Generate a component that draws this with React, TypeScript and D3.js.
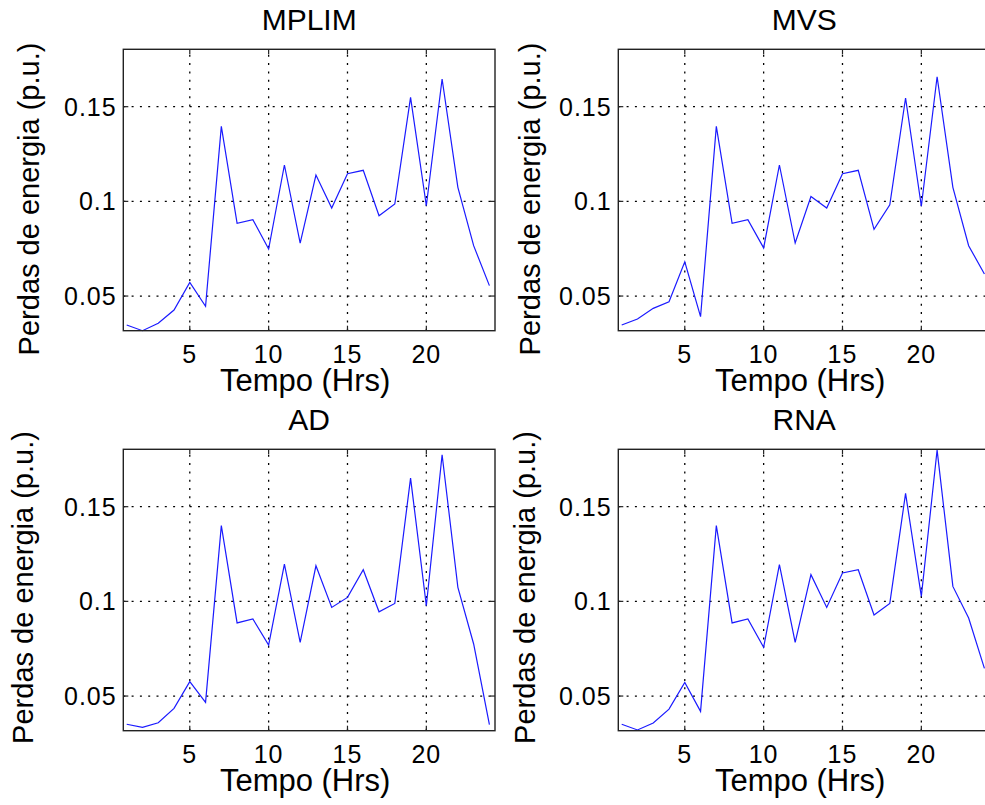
import React from "react";
import * as d3 from "d3";

const hours = [1, 2, 3, 4, 5, 6, 7, 8, 9, 10, 11, 12, 13, 14, 15, 16, 17, 18, 19, 20, 21, 22, 23, 24];
const mplim = [0.0347, 0.0317, 0.0356, 0.0426, 0.0572, 0.0446, 0.1396, 0.0884, 0.0903, 0.0748, 0.1192, 0.078, 0.1139, 0.0965, 0.1146, 0.1164, 0.0924, 0.0986, 0.1549, 0.0977, 0.1646, 0.1074, 0.0766, 0.0555];
const mvs = [0.0347, 0.0379, 0.0435, 0.047, 0.0681, 0.0391, 0.1396, 0.0884, 0.0903, 0.0754, 0.1192, 0.078, 0.1026, 0.0965, 0.1146, 0.1164, 0.0852, 0.0982, 0.1546, 0.0974, 0.1658, 0.1074, 0.0766, 0.0616];
const ad = [0.0351, 0.0335, 0.0359, 0.0435, 0.0576, 0.0467, 0.14, 0.0886, 0.0907, 0.0769, 0.1197, 0.0784, 0.1188, 0.0968, 0.1021, 0.1167, 0.0945, 0.0989, 0.1651, 0.0977, 0.1774, 0.1074, 0.0775, 0.0349];
const rna = [0.0351, 0.0321, 0.0358, 0.0431, 0.0572, 0.0419, 0.14, 0.0886, 0.0907, 0.0757, 0.1194, 0.0784, 0.1141, 0.0968, 0.115, 0.1167, 0.0928, 0.0989, 0.157, 0.1026, 0.1799, 0.1079, 0.0912, 0.0646];
const titles = ["MPLIM", "MVS", "AD", "RNA"];
const xTicks = [5, 10, 15, 20];
const yTicks = [0.05, 0.1, 0.15];
const yTickLabels = ["0.05", "0.1", "0.15"];
const xLabel = "Tempo (Hrs)";
const yLabel = "Perdas de energia (p.u.)";

const FONT = "'Liberation Sans', Arial, Helvetica, sans-serif";

type PanelProps = {
  left: number;
  top: number;
  values: number[];
  title: string;
  yLabelX: number;
  yLabelY: number;
};

const W = 371.7;
const H = 281.4;

function Panel({ left, top, values, title, yLabelX, yLabelY }: PanelProps) {
  const x = d3.scaleLinear().domain([0.784, 24.354]).range([left, left + W]);
  const y = d3.scaleLinear().domain([0.0317, 0.1803]).range([top + H, top]);
  const line = d3
    .line<number>()
    .x((_, i) => x(hours[i]))
    .y((d) => y(d));
  const bottom = top + H;
  const right = left + W;
  const tickLen = 5;
  const cx = left + W / 2;
  return (
    <g>
      {/* grid */}
      {xTicks.map((t) => (
        <line
          key={"gx" + t}
          x1={x(t)}
          x2={x(t)}
          y1={bottom}
          y2={top}
          stroke="#000"
          strokeWidth={1.3}
          strokeDasharray="2,6.3"
        />
      ))}
      {yTicks.map((t) => (
        <line
          key={"gy" + t}
          x1={left}
          x2={right}
          y1={y(t)}
          y2={y(t)}
          stroke="#000"
          strokeWidth={1.3}
          strokeDasharray="2,6.3"
        />
      ))}
      {/* ticks */}
      {xTicks.map((t) => (
        <g key={"tx" + t}>
          <line x1={x(t)} x2={x(t)} y1={bottom} y2={bottom - tickLen} stroke="#222" strokeWidth={1.2} />
          <line x1={x(t)} x2={x(t)} y1={top} y2={top + tickLen} stroke="#222" strokeWidth={1.2} />
        </g>
      ))}
      {yTicks.map((t) => (
        <g key={"ty" + t}>
          <line x1={left} x2={left + tickLen} y1={y(t)} y2={y(t)} stroke="#222" strokeWidth={1.2} />
          <line x1={right} x2={right - tickLen} y1={y(t)} y2={y(t)} stroke="#222" strokeWidth={1.2} />
        </g>
      ))}
      {/* data */}
      <path d={line(values) || ""} fill="none" stroke="#1a1aff" strokeWidth={1.2} />
      {/* box */}
      <rect x={left} y={top} width={W} height={H} fill="none" stroke="#222" strokeWidth={1.4} />
      {/* tick labels */}
      {xTicks.map((t) => (
        <text
          key={"lx" + t}
          x={x(t)}
          y={bottom + 32}
          textAnchor="middle"
          fontSize={25}
          letterSpacing={1}
          fontFamily={FONT}
          fill="#000"
        >
          {t}
        </text>
      ))}
      {yTicks.map((t, i) => (
        <text
          key={"ly" + t}
          x={left - 6.6}
          y={y(t)}
          dy="0.36em"
          textAnchor="end"
          fontSize={25}
          letterSpacing={1}
          fontFamily={FONT}
          fill="#000"
        >
          {yTickLabels[i]}
        </text>
      ))}
      {/* title */}
      <text x={cx} y={top - 19.3} textAnchor="middle" fontSize={30} fontFamily={FONT} fill="#000">
        {title}
      </text>
      {/* x label */}
      <text x={cx - 4} y={bottom + 60.5} textAnchor="middle" fontSize={31} fontFamily={FONT} fill="#000">
        {xLabel}
      </text>
      {/* y label */}
      <text
        transform={`translate(${yLabelX},${yLabelY}) rotate(-90)`}
        textAnchor="middle"
        fontSize={29}
        fontFamily={FONT}
        fill="#000"
      >
        {yLabel}
      </text>
    </g>
  );
}

const series = [mplim, mvs, ad, rna];
const panelLefts = [123.3, 618.3, 123.3, 618.3];
const panelTops = [49.3, 49.3, 449.3, 449.3];
const yLabelXs = [39.3, 540, 33.3, 535];
const yLabelYs = [199, 199, 587.5, 587.5];

export default function App() {
  return (
    <div style={{ position: "absolute", left: 0, top: 0, width: 985, height: 805, background: "#fff" }}>
      <svg width={985} height={805} viewBox="0 0 985 805" style={{ display: "block" }}>
        <rect x={0} y={0} width={985} height={805} fill="#fff" />
        {series.map((s, i) => (
          <Panel
            key={titles[i]}
            left={panelLefts[i]}
            top={panelTops[i]}
            values={s}
            title={titles[i]}
            yLabelX={yLabelXs[i]}
            yLabelY={yLabelYs[i]}
          />
        ))}
      </svg>
    </div>
  );
}
